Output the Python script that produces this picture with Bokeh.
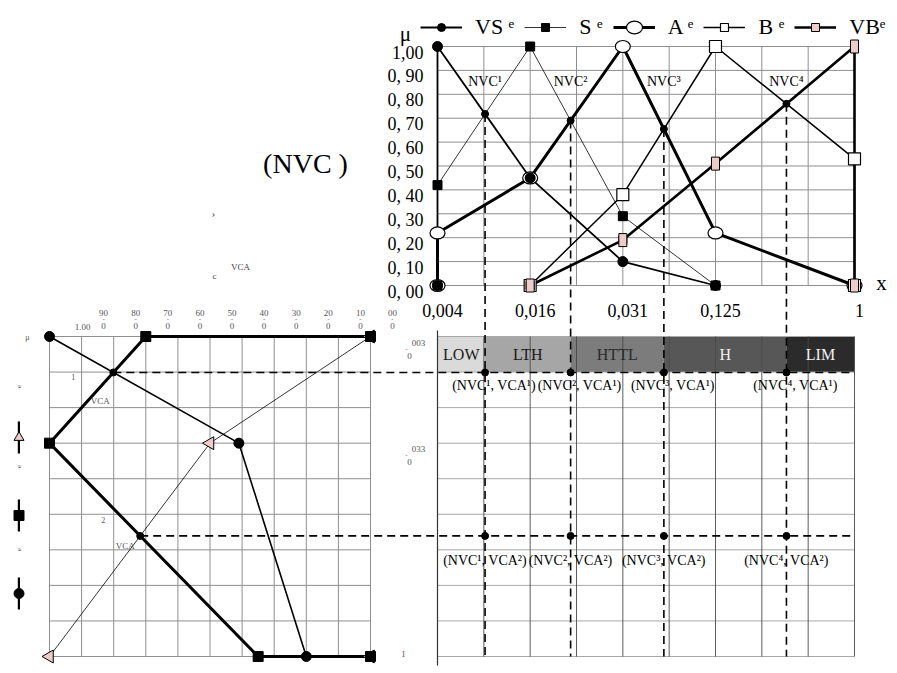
import numpy as np
from bokeh.plotting import figure
from bokeh.models import Range1d, Legend, LegendItem, ColumnDataSource
from bokeh.core.properties import value
from bokeh.embed import file_html
from bokeh.resources import INLINE

SERIF = value("Liberation Serif")

# ---------------- data ----------------
# upper chart: membership functions over the NVC universe
nvc_ticks = [0.004, 0.016, 0.031, 0.125, 1.0]
nvc_tick_labels = ["0,004", "0,016", "0,031", "0,125", "1"]
nvc_columns = [0, 2, 4, 6, 9]              # grid column of each NVC value
mu_ticks = [1.0, 0.9, 0.8, 0.7, 0.6, 0.5, 0.4, 0.3, 0.2, 0.1, 0.0]
mu_tick_labels = ["1,00", "0, 90", "0, 80", "0, 70", "0, 60", "0, 50",
                  "0, 40", "0, 30", "0, 20", "0, 10", "0, 00"]

vs_nvc = [0.004, 0.004, 0.016, 0.031, 0.125]
vs_mu = [0.00, 1.00, 0.45, 0.10, 0.00]
s_nvc = [0.004, 0.004, 0.016, 0.031, 0.125]
s_mu = [0.00, 0.42, 1.00, 0.29, 0.00]
a_nvc = [0.004, 0.004, 0.016, 0.031, 0.125, 1.0]
a_mu = [0.00, 0.22, 0.45, 1.00, 0.22, 0.00]
b_nvc = [0.016, 0.031, 0.125, 1.0, 1.0]
b_mu = [0.00, 0.38, 1.00, 0.53, 0.00]
vb_nvc = [0.016, 0.031, 0.125, 1.0, 1.0]
vb_mu = [0.00, 0.19, 0.51, 1.00, 0.00]

# left chart: membership functions over the VCA universe (rotated)
vca_ticks = [0.003, 0.033, 1.0]
vca_tick_labels = ["0,003", "0,033", "1"]
vca_rows = [0, 3, 9]
left_mu_ticks = [1.0, 0.9, 0.8, 0.7, 0.6, 0.5, 0.4, 0.3, 0.2, 0.1, 0.0]
left_mu_labels = ["1,00", "0,90", "0,80", "0,70", "0,60", "0,50",
                  "0,40", "0,30", "0,20", "0,10", "0,00"]

c_vca = [0.003, 0.033, 1.0, 1.0]
c_mu = [1.00, 0.41, 0.20, 0.00]
q_vca = [0.003, 0.003, 0.033, 1.0, 1.0]
q_mu = [0.00, 0.70, 1.00, 0.35, 0.00]
t_vca = [0.003, 0.033, 1.0]
t_mu = [0.00, 0.50, 1.00]
c_extra_vca = [0.003]
c_extra_mu = [0.00]
t_extra_vca = [1.0]
t_extra_mu = [0.00]

# decision zones
zone_labels = ["LOW", "LTH", "HTTL", "H", "LIM"]
zone_colors = ["#dadada", "#a6a6a6", "#7c7c7c", "#575757", "#2b2b2b"]
zone_text_colors = ["#1a1a1a", "#1a1a1a", "#2a2a2a", "#f0f0f0", "#f0f0f0"]

# ---------------- layout (page pixels) ----------------
W, H = 893, 669
PX_L, PX_R, PY_T, PY_B = 0, W, 0, H
COL0_PX, COL9_PX = 437, 854      # grid columns 0 and 9
MU0_PY, MU1_PY = 285, 46         # mu 0 and 1 in the upper chart
ROW0_PY, ROW9_PY = 336, 656      # rows 0 and 9 in the lower charts
LMU1_PX, LMU0_PX = 49, 370       # mu 1 and 0 in the left chart
N_COLS, N_ROWS = 9, 9


def lin(v0, p0, v1, p1):
    k = (v1 - v0) / (p1 - p0)
    return lambda px: v0 + (px - p0) * k


col_of_px = lin(0, COL0_PX, N_COLS, COL9_PX)
px_of_col = lin(COL0_PX, 0, COL9_PX, N_COLS)
mu_of_py = lin(0, MU0_PY, 1, MU1_PY)
py_of_mu = lin(MU0_PY, 0, MU1_PY, 1)
row_of_py = lin(0, ROW0_PY, N_ROWS, ROW9_PY)
lmu_of_px = lin(1, LMU1_PX, 0, LMU0_PX)

p = figure(width=W, height=H, output_backend="svg", toolbar_location=None,
           x_range=Range1d(col_of_px(PX_L), col_of_px(PX_R)),
           y_range=Range1d(mu_of_py(PY_B), mu_of_py(PY_T)),
           x_axis_location=None, y_axis_location=None, min_border=0,
           outline_line_color=None, title=None)
p.extra_x_ranges = {"mu": Range1d(lmu_of_px(PX_L), lmu_of_px(PX_R)),
                    "px": Range1d(PX_L, PX_R)}
p.extra_y_ranges = {"rows": Range1d(row_of_py(PY_B), row_of_py(PY_T)),
                    "py": Range1d(PY_B, PY_T)}
p.grid.visible = False

col = dict(zip(nvc_ticks, nvc_columns))
row = dict(zip(vca_ticks, vca_rows))


def cx(vals):
    return [col[v] for v in vals]


def ry(vals):
    return [row[v] for v in vals]


def txt(x, y, text, size, xr="default", yr="default", color="black", font=SERIF, **kw):
    data = dict(x=list(x), y=list(y), text=list(text))
    if isinstance(color, (list, tuple)):
        data["text_color"] = list(color)
        color = "text_color"
    for k in list(kw):
        if isinstance(kw[k], (list, tuple)):
            data[k] = list(kw[k])
            kw[k] = k
    src = ColumnDataSource(data)
    return p.text("x", "y", "text", source=src, x_range_name=xr, y_range_name=yr,
                  text_font=font, text_font_size=size, text_color=color, **kw)


def cross(p1, p2, q1, q2):
    (x1, y1), (x2, y2), (x3, y3), (x4, y4) = p1, p2, q1, q2
    d = (x1 - x2) * (y3 - y4) - (y1 - y2) * (x3 - x4)
    t = ((x1 - x3) * (y3 - y4) - (y1 - y3) * (x3 - x4)) / d
    return x1 + t * (x2 - x1), y1 + t * (y2 - y1)


def falling_rising(fx, fy, gx, gy):
    i = int(np.argmax(fy))
    j = int(np.argmax(gy))
    return cross((fx[i], fy[i]), (fx[i + 1], fy[i + 1]), (gx[j - 1], gy[j - 1]), (gx[j], gy[j]))


# crossings NVC^k in the upper chart
series_top = [(cx(vs_nvc), vs_mu), (cx(s_nvc), s_mu), (cx(a_nvc), a_mu),
              (cx(b_nvc), b_mu), (cx(vb_nvc), vb_mu)]
nvc_pts = [falling_rising(*series_top[k], *series_top[k + 1]) for k in range(4)]
nvc_x = [q[0] for q in nvc_pts]
nvc_y = [q[1] for q in nvc_pts]

# crossings VCA^j in the left chart (in (row, mu))
series_left = [(ry(c_vca), c_mu), (ry(q_vca), q_mu), (ry(t_vca), t_mu)]
vca_pts = [falling_rising(*series_left[j], *series_left[j + 1]) for j in range(2)]
vca_row = [q[0] for q in vca_pts]
vca_mu = [q[1] for q in vca_pts]

cols = list(range(N_COLS + 1))
rows_all = list(range(N_ROWS + 1))

# ---------------- upper chart grid ----------------
p.segment(x0=cols, y0=[0] * len(cols), x1=cols, y1=[1] * len(cols),
          line_color="#8f8f8f", line_width=1)
p.segment(x0=[0] * 11, y0=mu_ticks, x1=[N_COLS] * 11, y1=mu_ticks,
          line_color="#8f8f8f", line_width=1)

# ---------------- lower-right zone table ----------------
bounds = [0] + nvc_x + [N_COLS]
p.quad(left=bounds[:-1], right=bounds[1:], top=[0] * 5, bottom=[1] * 5,
       fill_color=zone_colors, line_color=None, y_range_name="rows")
p.segment(x0=[0] * len(rows_all), y0=rows_all, x1=[N_COLS] * len(rows_all), y1=rows_all,
          line_color="#a8a8a8", line_width=1, y_range_name="rows")
p.segment(x0=cols, y0=[0] * len(cols), x1=cols, y1=[N_ROWS] * len(cols),
          line_color="#4a4a4a", line_width=1, line_alpha=0.9, y_range_name="rows")
p.segment(x0=[0], y0=[-0.17], x1=[0], y1=[N_ROWS + 0.25],
          line_color="#333333", line_width=1.2, y_range_name="rows")
mids = [(bounds[i] + bounds[i + 1]) / 2 for i in range(5)]
txt(mids, [0.5] * 5, zone_labels, "16px", yr="rows", color=zone_text_colors,
    text_align="center", text_baseline="middle")

# ---------------- left chart grid ----------------
p.segment(x0=left_mu_ticks, y0=[0] * 11, x1=left_mu_ticks, y1=[N_ROWS] * 11,
          line_color="#8f8f8f", line_width=1, x_range_name="mu", y_range_name="rows")
p.segment(x0=[1] * len(rows_all), y0=rows_all, x1=[0] * len(rows_all), y1=rows_all,
          line_color="#8f8f8f", line_width=1, x_range_name="mu", y_range_name="rows")

# ---------------- dashed projection lines ----------------
dash_top = [row_of_py(py_of_mu(v)) for v in nvc_y]
p.segment(x0=nvc_x, y0=dash_top, x1=nvc_x, y1=[N_ROWS] * 4, line_color="black",
          line_width=1.6, line_dash="8 5", y_range_name="rows")
right_end = lmu_of_px(px_of_col(N_COLS))
p.segment(x0=vca_mu, y0=vca_row, x1=[right_end] * 2, y1=vca_row, line_color="black",
          line_width=1.6, line_dash="8 5", x_range_name="mu", y_range_name="rows")

# ---------------- upper chart series ----------------
PINK = "#efcccc"
vs_line = p.line(cx(vs_nvc), vs_mu, line_color="black", line_width=1.8)
s_line = p.line(cx(s_nvc), s_mu, line_color="black", line_width=0.8)
a_line = p.line(cx(a_nvc), a_mu, line_color="black", line_width=3)
b_line = p.line(cx(b_nvc), b_mu, line_color="black", line_width=1.5)
vb_line = p.line(cx(vb_nvc), vb_mu, line_color="black", line_width=2.6)

a_mark = p.ellipse(cx(a_nvc), a_mu, width=15, height=12, width_units="screen",
                   height_units="screen", fill_color="white", line_color="black", line_width=1.2)
b_mark = p.scatter(cx(b_nvc), b_mu, marker="square", size=12, fill_color="white",
                   line_color="black", line_width=1.2)
vb_key = p.scatter(cx(vb_nvc), vb_mu, marker="square", size=8, fill_color=PINK,
                   line_color="black", line_width=1)
vb_mark = p.rect(cx(vb_nvc), vb_mu, width=8, height=13, width_units="screen",
                 height_units="screen", fill_color=PINK, line_color="black", line_width=1)
s_mark = p.scatter(cx(s_nvc), s_mu, marker="square", size=9, fill_color="black", line_color="black")
vs_mark = p.scatter(cx(vs_nvc), vs_mu, marker="circle", size=10, fill_color="black", line_color="black")

# NVC crossing points and labels
p.scatter(nvc_x, nvc_y, marker="circle", size=7, fill_color="black", line_color="black")
sup = {1: "\u00b9", 2: "\u00b2", 3: "\u00b3", 4: "\u2074"}
NVC_LABEL_MU = 0.86
txt(nvc_x, [NVC_LABEL_MU] * 4, ["NVC" + sup[k + 1] for k in range(4)], "14px",
    text_align="center", text_baseline="middle", y_offset=2)

# upper axes (tick labels)
txt([0] * 11, mu_ticks, mu_tick_labels, "18px", text_align="right",
    text_baseline="middle", x_offset=-14, y_offset=6)
txt(nvc_columns, [0] * 5, nvc_tick_labels, "18px", text_align="center",
    text_baseline="middle", x_offset=5, y_offset=25)
txt([0], [1], ["\u03bc"], "21px", text_align="center", text_baseline="middle",
    x_offset=-32, y_offset=-13)
txt([N_COLS], [0], ["x"], "21px", text_align="center", text_baseline="middle",
    x_offset=27, y_offset=-3)

# ---------------- left chart series ----------------
lkw = dict(x_range_name="mu", y_range_name="rows")
c_line = p.line(c_mu, ry(c_vca), line_color="black", line_width=1.6, **lkw)
q_line = p.line(q_mu, ry(q_vca), line_color="black", line_width=3, **lkw)
t_line = p.line(t_mu, ry(t_vca), line_color="black", line_width=0.8, **lkw)
bar_kw = dict(width=0, height=0, width_units="screen", height_units="screen",
              fill_color="black", line_color=None, **lkw)
t_bar = p.rect(t_mu, ry(t_vca), **bar_kw)
q_bar = p.rect(q_mu, ry(q_vca), **bar_kw)
c_bar = p.rect(c_mu, ry(c_vca), **bar_kw)
p.scatter(t_extra_mu, ry(t_extra_vca), marker="triangle", angle=np.pi / 2, size=13,
          fill_color=PINK, line_color="black", line_width=1, **lkw)
t_mark = p.scatter(t_mu, ry(t_vca), marker="triangle", angle=np.pi / 2, size=13,
                   fill_color=PINK, line_color="black", line_width=1, **lkw)
q_mark = p.scatter(q_mu, ry(q_vca), marker="square", size=10, fill_color="black",
                   line_color="black", **lkw)
c_mark = p.scatter(c_mu, ry(c_vca), marker="circle", size=10, fill_color="black",
                   line_color="black", **lkw)
p.scatter(c_extra_mu, ry(c_extra_vca), marker="circle", size=10, fill_color="black",
          line_color="black", **lkw)

# VCA crossing points, their labels and table crossings
p.scatter(vca_mu, vca_row, marker="circle", size=7, fill_color="black", line_color="black", **lkw)
vca_lab_dx = [-13, -15]
vca_lab_dy = [29, 10]
vca_num_dx = [-40, -37]
vca_num_dy = [5, -16]
for j in range(2):
    txt([vca_mu[j]], [vca_row[j]], ["VCA"], "9px", color="#555555", xr="mu", yr="rows",
        text_align="center", text_baseline="middle", x_offset=vca_lab_dx[j], y_offset=vca_lab_dy[j])
    txt([vca_mu[j]], [vca_row[j]], [str(j + 1)], "8px", color="#555555", xr="mu", yr="rows",
        text_align="center", text_baseline="middle", x_offset=vca_num_dx[j], y_offset=vca_num_dy[j])

gx = [nvc_x[k] for j in range(2) for k in range(4)]
gy = [vca_row[j] for j in range(2) for k in range(4)]
p.scatter(gx, gy, marker="circle", size=7, fill_color="black", line_color="black", y_range_name="rows")
pair_text = ["(NVC" + sup[k + 1] + ", VCA" + sup[j + 1] + ")" for j in range(2) for k in range(4)]
pair_dx = [9 if j == 0 else 0 for j in range(2) for k in range(4)]
pair_dy = [13 if j == 0 else 25 for j in range(2) for k in range(4)]
txt(gx, gy, pair_text, "14px", yr="rows", text_align="center", text_baseline="middle",
    x_offset=pair_dx, y_offset=pair_dy)

# left chart tick labels (small, stacked)
tops = [lab.split(",")[1] for lab in left_mu_labels[1:]]
txt(left_mu_ticks[1:], [0] * 10, tops, "9px", xr="mu", yr="rows", color="#555555",
    text_align="center", text_baseline="middle", x_offset=22, y_offset=-24)
txt(left_mu_ticks[1:], [0] * 10, ["-"] * 10, "7px", xr="mu", yr="rows", color="#555555",
    text_align="center", text_baseline="middle", x_offset=22, y_offset=-18)
txt(left_mu_ticks[1:], [0] * 10, [lab.split(",")[0] for lab in left_mu_labels[1:]], "9px",
    xr="mu", yr="rows", color="#555555", text_align="center", text_baseline="middle",
    x_offset=22, y_offset=-11)
txt([left_mu_ticks[0]], [0], [left_mu_labels[0].replace(",", ".")], "9px", xr="mu", yr="rows",
    color="#555555", text_align="center", text_baseline="middle", x_offset=33, y_offset=-10)

for lab, r in zip(vca_tick_labels, vca_rows):
    if "," in lab:
        hi, lo = lab.split(",")[1], lab.split(",")[0]
        txt([0], [r], [hi], "9px", xr="mu", yr="rows", color="#555555",
            text_align="center", text_baseline="middle", x_offset=48, y_offset=6)
        txt([0], [r], ["-"], "7px", xr="mu", yr="rows", color="#555555",
            text_align="center", text_baseline="middle", x_offset=36, y_offset=12)
        txt([0], [r], [lo], "9px", xr="mu", yr="rows", color="#555555",
            text_align="center", text_baseline="middle", x_offset=39, y_offset=19)
    else:
        txt([0], [r], [lab], "9px", xr="mu", yr="rows", color="#555555",
            text_align="center", text_baseline="middle", x_offset=33, y_offset=-3)

# ---------------- legends ----------------
top_legend = Legend(items=[
    LegendItem(label="VS \u1d49", renderers=[vs_line, vs_mark]),
    LegendItem(label="S \u1d49", renderers=[s_line, s_mark]),
    LegendItem(label="A \u1d49", renderers=[a_line, a_mark]),
    LegendItem(label="B \u1d49", renderers=[b_line, b_mark]),
    LegendItem(label="VB\u1d49", renderers=[vb_line, vb_key]),
], orientation="horizontal", location=(420, 629), glyph_width=42, glyph_height=20,
    label_standoff=13, spacing=10, padding=0, margin=0, border_line_color=None,
    background_fill_alpha=0, label_text_font="Liberation Serif", label_text_font_size="22px",
    label_text_color="black")
p.add_layout(top_legend)

# rotated key of the left chart: vertical strokes plus markers
left_bars = Legend(items=[
    LegendItem(label=" ", renderers=[t_bar]),
    LegendItem(label=" ", renderers=[q_bar]),
    LegendItem(label=" ", renderers=[c_bar]),
], orientation="vertical", location=(16.5, 56), glyph_width=3, glyph_height=40,
    label_standoff=0, spacing=38, padding=0, margin=0, border_line_color=None,
    background_fill_alpha=0, label_text_font_size="6px")
p.add_layout(left_bars)
left_marks = Legend(items=[
    LegendItem(label=" ", renderers=[t_mark]),
    LegendItem(label=" ", renderers=[q_mark]),
    LegendItem(label=" ", renderers=[c_mark]),
], orientation="vertical", location=(5.5, 60), glyph_width=25, glyph_height=32,
    label_standoff=0, spacing=46, padding=0, margin=0, border_line_color=None,
    background_fill_alpha=0, label_text_font_size="6px")
p.add_layout(left_marks)

# ---------------- free texts ----------------
txt([305], [163], ["(NVC )"], "28px", xr="px", yr="py", text_align="center", text_baseline="middle")
txt([213], [213], ["\u203a"], "10px", xr="px", yr="py", color="#333333",
    text_align="center", text_baseline="middle")
txt([240], [266], ["VCA"], "9px", xr="px", yr="py", color="#444444",
    text_align="center", text_baseline="middle")
txt([214], [275], ["c"], "9px", xr="px", yr="py", color="#444444",
    text_align="center", text_baseline="middle")
txt([27], [337], ["\u03bc"], "8px", xr="px", yr="py", color="#555555",
    text_align="center", text_baseline="middle")
txt([18, 18, 18], [386, 466, 549], ["e", "e", "e"], "7px", xr="px", yr="py", color="#555555",
    text_align="center", text_baseline="middle", angle=np.pi / 2)

open("out.html", "w").write(file_html(p, INLINE))
